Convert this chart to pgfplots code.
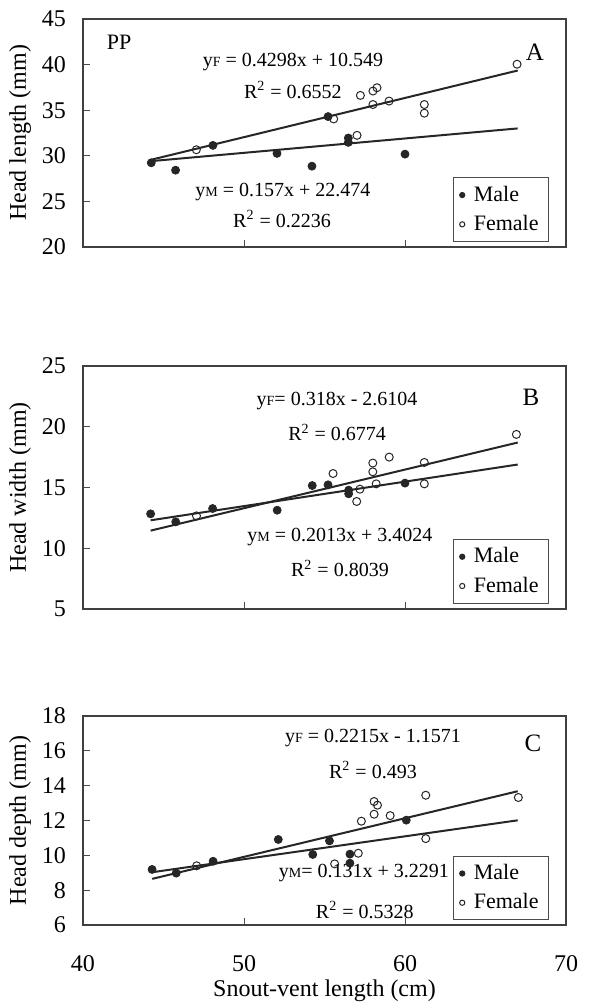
\documentclass[border=0pt]{standalone}
\usepackage{fontspec}
\setmainfont{Liberation Serif}
\usepackage{pgfplots}
\pgfplotsset{compat=1.18}

\newcommand{\eqf}{\fontsize{10}{11}\selectfont}
\newcommand{\sub}[1]{{\fontsize{7}{8}\selectfont #1}}
\newcommand{\Rsq}{R\textsuperscript{2}}

\pgfplotsset{
  panel/.style={
    scale only axis, width=241.5pt,
    xmin=40, xmax=70, xtick={40,50,60,70},
    tick align=inside, tick pos=left,
    major tick length=3.5pt,
    axis line style={line width=0.7pt, black!75},
    every tick/.style={black!70, line width=0.5pt},
    /pgf/number format/assume math mode=true,
    ticklabel style={font=\fontsize{12}{12}\selectfont},
    yticklabel style={xshift=-5pt},
    label style={font=\fontsize{12}{12}\selectfont},
    ylabel style={at={(axis description cs:-0.1304,0.5)}, anchor=center},
    legend style={at={(0.965,0.022)}, anchor=south east, draw=black!70,
      line width=0.5pt, font=\fontsize{11}{13}\selectfont,
      inner xsep=3pt, inner ysep=2pt, row sep=1.5pt,
      /tikz/every odd column/.append style={column sep=2.5pt}},
    legend cell align=left,
    legend image post style={mark size=1.3pt},
  },
  male/.style={only marks, mark=*, mark size=2pt, black!85},
  female/.style={only marks, mark=o, mark size=2pt, black!85, mark options={line width=0.5pt}},
  fit/.style={no marks, line width=1pt, black!85, forget plot},
}

\begin{document}
\begin{tikzpicture}
\useasboundingbox (0,0) rectangle (295.5pt,502.5pt);

% ---- A: head length
\begin{axis}[panel, at={(41.5pt,379pt)}, anchor=south west, height=114pt,
  ymin=20, ymax=45, ytick={20,25,...,45}, xticklabels={},
  ylabel={Head length (mm)}]
\addplot[male] coordinates {(44.24,29.23) (45.75,28.42) (48.07,31.14) (52.05,30.26)
  (54.22,28.86) (55.22,34.30) (56.48,31.95) (56.48,31.47) (60.0,30.18)};
\addlegendentry{Male}
\addplot[female] coordinates {(47.04,30.66) (55.57,34.04) (57.02,32.24) (57.23,36.62)
  (58.01,35.62) (58.01,37.10) (58.26,37.46) (59.01,36.0) (61.2,35.62) (61.2,34.67) (66.96,40.04)};
\addlegendentry{Female}
\addplot[fit] coordinates {(44.2,29.41) (67.0,33.0)};
\addplot[fit] coordinates {(44.2,29.55) (67.0,39.35)};
\node[font=\fontsize{11}{12}\selectfont] at (axis cs:42.24,42.48) {PP};
\node[font=\fontsize{12.5}{13}\selectfont] at (axis cs:68.07,41.38) {A};
\node[font=\eqf] at (axis cs:53.04,40.29) {y\sub{F} = 0.4298x + 10.549};
\node[font=\eqf] at (axis cs:53.04,37.21) {\Rsq{} = 0.6552};
\node[font=\eqf] at (axis cs:52.42,26.03) {y\sub{M} = 0.157x + 22.474};
\node[font=\eqf] at (axis cs:52.36,23.07) {\Rsq{} = 0.2236};
\end{axis}

% ---- B: head width
\begin{axis}[panel, at={(41.5pt,198pt)}, anchor=south west, height=121.5pt,
  ymin=5, ymax=25, ytick={5,10,...,25}, xticklabels={},
  ylabel={Head width (mm)}]
\addplot[male] coordinates {(44.2,12.83) (45.76,12.17) (48.05,13.27) (52.06,13.13)
  (54.24,15.16) (55.22,15.22) (56.5,14.78) (56.5,14.48) (60.0,15.36)};
\addlegendentry{Male}
\addplot[female] coordinates {(47.05,12.66) (55.53,16.15) (57.0,13.85) (57.2,14.86)
  (58.0,17.01) (58.0,16.29) (58.21,15.3) (59.02,17.5) (61.2,17.06) (61.2,15.3) (66.92,19.37)};
\addlegendentry{Female}
\addplot[fit] coordinates {(44.2,12.30) (67.0,16.89)};
\addplot[fit] coordinates {(44.2,11.45) (67.0,18.70)};
\node[font=\fontsize{12.5}{13}\selectfont] at (axis cs:67.83,22.44) {B};
\node[font=\eqf] at (axis cs:55.78,22.11) {y\sub{F}= 0.318x - 2.6104};
\node[font=\eqf] at (axis cs:55.78,19.55) {\Rsq{} = 0.6774};
\node[font=\eqf] at (axis cs:55.96,10.95) {y\sub{M} = 0.2013x + 3.4024};
\node[font=\eqf] at (axis cs:55.96,8.31) {\Rsq{} = 0.8039};
\end{axis}

% ---- C: head depth
\begin{axis}[panel, at={(41.5pt,40pt)}, anchor=south west, height=104.5pt,
  ymin=6, ymax=18, ytick={6,8,...,18},
  xticklabel style={anchor=center, yshift=-19.5pt},
  xlabel style={at={(axis description cs:0.5,0)}, anchor=center, yshift=-33pt},
  ylabel={Head depth (mm)}, xlabel={Snout-vent length (cm)}]
\addplot[male] coordinates {(44.29,9.19) (45.79,8.98) (48.08,9.66) (52.13,10.91)
  (54.27,10.05) (55.31,10.83) (56.58,10.07) (56.58,9.55) (60.08,12.02)};
\addlegendentry{Male}
\addplot[female] coordinates {(47.06,9.40) (55.63,9.51) (57.1,10.12) (57.29,11.96)
  (58.08,12.36) (58.08,13.09) (58.29,12.88) (59.08,12.28) (61.29,13.45) (61.29,10.96) (67.04,13.32)};
\addlegendentry{Female}
\addplot[fit] coordinates {(44.3,9.03) (67.0,12.01)};
\addplot[fit] coordinates {(44.3,8.65) (67.0,13.68)};
\node[font=\fontsize{12.5}{13}\selectfont] at (axis cs:67.95,16.45) {C};
\node[font=\eqf] at (axis cs:58.01,16.73) {y\sub{F} = 0.2215x - 1.1571};
\node[font=\eqf] at (axis cs:58.01,14.90) {\Rsq{} = 0.493};
\node[font=\eqf] at (axis cs:57.45,8.99) {y\sub{M}= 0.131x + 3.2291};
\node[font=\eqf] at (axis cs:57.5,6.86) {\Rsq{} = 0.5328};
\end{axis}
\end{tikzpicture}
\end{document}
